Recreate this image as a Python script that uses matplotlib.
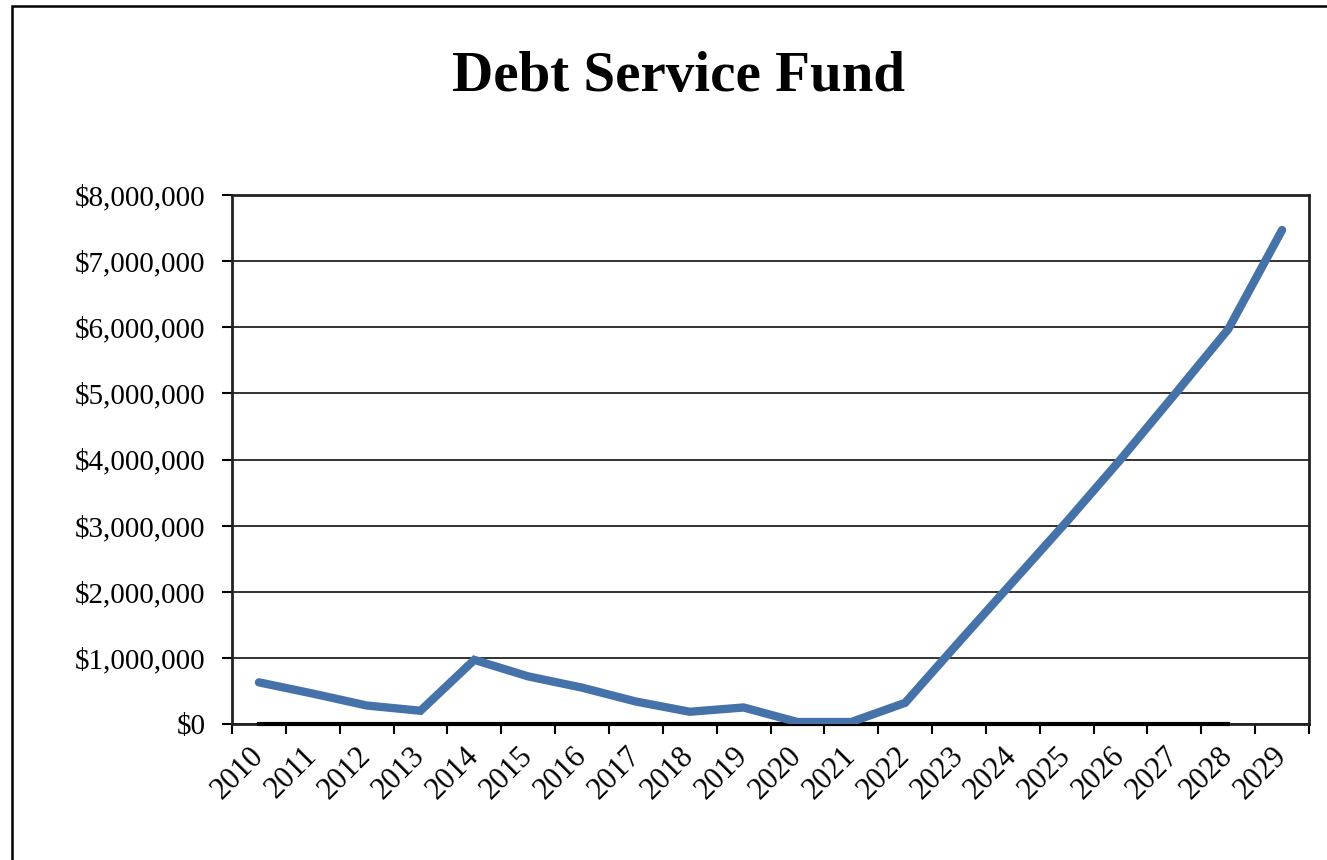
import numpy as np
import matplotlib
matplotlib.use("Agg")
import matplotlib.pyplot as plt
import matplotlib.patches as mpatches
from matplotlib.ticker import FuncFormatter

# Data
years = [str(y) for y in range(2010, 2030)]
fund_balance = [630000, 460000, 280000, 200000, 970000, 720000, 550000, 340000,
                185000, 250000, 30000, 30000, 320000, 1240000, 2150000, 3060000,
                4000000, 4980000, 5970000, 7470000]
baseline = [0] * 19  # second (flat) series, 2010-2028
y_ticks = [0, 1000000, 2000000, 3000000, 4000000, 5000000, 6000000, 7000000, 8000000]

serif = ['Liberation Serif', 'DejaVu Serif']

fig = plt.figure(figsize=(13.27, 8.6), dpi=100)
ax = fig.add_axes([232 / 1327, 1 - 724 / 860, (1309 - 232) / 1327, (724 - 195) / 860])

x = np.arange(len(years))
ax.plot(x[:len(baseline)], baseline, color='black', lw=3, zorder=3, clip_on=False)
ax.plot(x, fund_balance, color='#4672AA', lw=6, solid_capstyle='round',
        solid_joinstyle='miter', zorder=4)

ax.set_xlim(-0.5, len(years) - 0.5)
ax.set_ylim(0, 8000000)

# y axis
ax.set_yticks(y_ticks)
ax.yaxis.set_major_formatter(FuncFormatter(lambda v, p: '${:,.0f}'.format(v)))
ax.grid(axis='y', color='#222222', lw=1.3)
ax.set_axisbelow(True)

# x axis: tick marks on category boundaries, labels at centers
ax.set_xticks(np.arange(-0.5, len(years)))
ax.set_xticklabels([])
ax.set_xticks(x, minor=True)
ax.set_xticklabels(years, minor=True, rotation=45, ha='right', va='center',
                   rotation_mode='anchor', family=serif, fontsize=22)
ax.tick_params(axis='x', which='minor', length=0, pad=20)
ax.tick_params(axis='x', which='major', length=7, width=1.5, color='black')
ax.tick_params(axis='y', length=7, width=1.5, color='black', pad=12)
for lab in ax.get_yticklabels():
    lab.set_family(serif)
    lab.set_fontsize(21)

for s in ax.spines.values():
    s.set_linewidth(2)
    s.set_color('#222222')

fig.text(678 / 1327, 1 - 77 / 860, 'Debt Service Fund', ha='center', va='center',
         family=serif, fontweight='bold', fontsize=41)

# outer chart border (runs off the right and bottom edges)
border = mpatches.Rectangle((12 / 1327, -0.2), 1.2, 1.2 - 6 / 860, transform=fig.transFigure,
                            fill=False, edgecolor='black', lw=1.8)
fig.patches.append(border)

fig.savefig('out.png', dpi=100)
